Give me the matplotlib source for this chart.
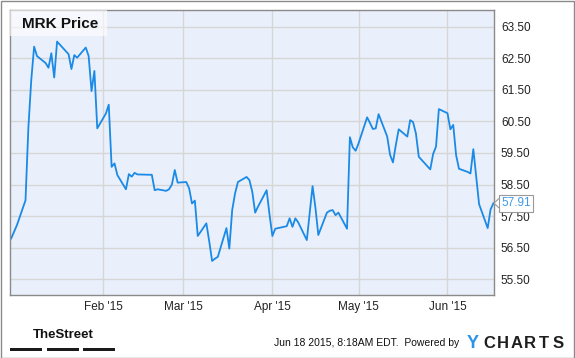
"""
MRK price chart, YCharts style.
"""

import numpy as np
import matplotlib
matplotlib.use("Agg")
import matplotlib.pyplot as plt
import matplotlib.dates as mdates
from matplotlib.patches import Rectangle, Polygon
import pandas as pd

plt.rcParams['font.family'] = ['Liberation Sans', 'DejaVu Sans']

dates = [
    "2014-12-31", "2015-01-02", "2015-01-05", "2015-01-06", "2015-01-07", "2015-01-08", "2015-01-09",
    "2015-01-12", "2015-01-13", "2015-01-14", "2015-01-15", "2015-01-16",
    "2015-01-20", "2015-01-21", "2015-01-22", "2015-01-23",
    "2015-01-26", "2015-01-27", "2015-01-28", "2015-01-29", "2015-01-30",
    "2015-02-02", "2015-02-03", "2015-02-04", "2015-02-05", "2015-02-06",
    "2015-02-09", "2015-02-10", "2015-02-11", "2015-02-12", "2015-02-13",
    "2015-02-17", "2015-02-18", "2015-02-19", "2015-02-20",
    "2015-02-23", "2015-02-24", "2015-02-25", "2015-02-26", "2015-02-27",
    "2015-03-02", "2015-03-03", "2015-03-04", "2015-03-05", "2015-03-06",
    "2015-03-09", "2015-03-10", "2015-03-11", "2015-03-12", "2015-03-13",
    "2015-03-16", "2015-03-17", "2015-03-18", "2015-03-19", "2015-03-20",
    "2015-03-23", "2015-03-24", "2015-03-25", "2015-03-26", "2015-03-27",
    "2015-03-30", "2015-03-31", "2015-04-01", "2015-04-02",
    "2015-04-06", "2015-04-07", "2015-04-08", "2015-04-09", "2015-04-10",
    "2015-04-13", "2015-04-14", "2015-04-15", "2015-04-16", "2015-04-17",
    "2015-04-20", "2015-04-21", "2015-04-22", "2015-04-23", "2015-04-24",
    "2015-04-27", "2015-04-28", "2015-04-29", "2015-04-30", "2015-05-01",
    "2015-05-04", "2015-05-05", "2015-05-06", "2015-05-07", "2015-05-08",
    "2015-05-11", "2015-05-12", "2015-05-13", "2015-05-14", "2015-05-15",
    "2015-05-18", "2015-05-19", "2015-05-20", "2015-05-21", "2015-05-22",
    "2015-05-26", "2015-05-27", "2015-05-28", "2015-05-29",
    "2015-06-01", "2015-06-02", "2015-06-03", "2015-06-04", "2015-06-05",
    "2015-06-08", "2015-06-09", "2015-06-10", "2015-06-11", "2015-06-12",
    "2015-06-15", "2015-06-16", "2015-06-17",
]

prices = [
    56.79, 57.21, 58.00, 60.30, 61.80, 62.87, 62.57,
    62.35, 62.20, 62.66, 61.89, 63.03,
    62.63, 62.16, 62.60, 62.52,
    62.84, 62.57, 61.46, 62.10, 60.28,
    60.75, 61.03, 59.06, 59.17, 58.80,
    58.35, 58.83, 58.75, 58.87, 58.82,
    58.81, 58.81, 58.32, 58.35,
    58.30, 58.35, 58.50, 58.96, 58.56,
    58.58, 58.38, 57.90, 57.99, 56.87,
    57.27, 56.70, 56.08, 56.15, 56.21,
    57.12, 56.47, 57.69, 58.22, 58.58,
    58.74, 58.64, 58.27, 57.61, 57.80,
    58.32, 57.55, 56.87, 57.10,
    57.18, 57.43, 57.16, 57.43, 57.30,
    56.74, 57.60, 58.45, 57.76, 56.90,
    57.61, 57.67, 57.69, 57.53, 57.61,
    57.10, 60.00, 59.68, 59.57, 59.80,
    60.63, 60.45, 60.26, 60.28, 60.73,
    60.02, 59.44, 59.20, 59.75, 60.25,
    60.02, 60.54, 60.48, 60.12, 59.38,
    58.98, 59.47, 59.70, 60.89,
    60.76, 60.25, 60.39, 59.43, 59.00,
    58.90, 58.85, 59.62, 58.75, 57.88,
    57.12, 57.71, 57.91,
]

y_ticks = [55.5, 56.5, 57.5, 58.5, 59.5, 60.5, 61.5, 62.5, 63.5]
x_ticks = ["2015-02-01", "2015-03-01", "2015-04-01", "2015-05-01", "2015-06-01"]

LINE = '#1a8ae6'
BG = '#eaf0fb'
GRID = '#d6d6d6'

x = mdates.date2num(pd.to_datetime(dates))

fig = plt.figure(figsize=(5.75, 3.58), dpi=100)
ax = fig.add_axes([10 / 575, 1 - 295 / 358, 484 / 575, 285 / 358])
ax.set_facecolor(BG)

ax.plot(x, prices, color=LINE, lw=1.3, zorder=2)

ax.set_xlim(x[0] - 0.4, x[-1] + 0.2)
ax.set_ylim(55.0, 64.03)

ax.set_xticks(mdates.date2num(pd.to_datetime(x_ticks)))
ax.xaxis.set_major_formatter(mdates.DateFormatter("%b '%y"))
ax.set_yticks(y_ticks)
ax.set_yticklabels(["%.2f" % v for v in y_ticks])
ax.yaxis.tick_right()
ax.tick_params(axis='both', length=0, labelsize=8.5, colors='#222222')
ax.tick_params(axis='y', pad=5)
ax.tick_params(axis='x', pad=4)
ax.grid(True, color=GRID, lw=1)
ax.set_axisbelow(True)
for s in ax.spines.values():
    s.set_color('#8a8a8a')
    s.set_linewidth(1)

# title box
ax.add_patch(Rectangle((0, 0.909), 0.2004, 0.091, transform=ax.transAxes,
                       fc='white', ec='none', alpha=0.6, zorder=3))
ax.text(0.024, 0.952, 'MRK Price', transform=ax.transAxes, fontsize=11,
        fontweight='bold', color='#111111', va='center', ha='left', zorder=4)

# last value tag
last = prices[-1]
ax.annotate('%.2f' % last, xy=(1, last), xycoords=('axes fraction', 'data'),
            xytext=(5.3, 0), textcoords='offset points', ha='left', va='center',
            fontsize=8.5, color='#3d9ae8', annotation_clip=False, zorder=6,
            bbox=dict(boxstyle='square,pad=0.2', fc='white', ec='#999999', lw=0.8))
tri = Polygon([(1 + 5 / 484, last + 0.15), (1.0, last), (1 + 5 / 484, last - 0.15)],
              closed=False, transform=ax.get_yaxis_transform(), fc='white',
              ec='#999999', lw=0.8, clip_on=False, zorder=7)
ax.add_patch(tri)

# outer frame
fig.patches.append(Rectangle((0.5 / 575, 0.5 / 358), 1 - 1.5 / 575, 1 - 1.5 / 358,
                             transform=fig.transFigure, fill=False, ec='#8a8a8a', lw=1))

# footer: TheStreet logo
fig.text(63 / 575, 1 - 335.5 / 358, 'TheStreet', ha='center', va='center', fontsize=9.5,
         fontweight='bold', color='#111111',
         family=['Liberation Sans Narrow', 'Liberation Sans', 'DejaVu Sans'])
for bx in [10, 47, 83]:
    fig.patches.append(Rectangle((bx / 575, 1 - 351 / 358), 32 / 575, 3.2 / 358,
                                 transform=fig.transFigure, fc='#1a1a1a', ec='none'))

# footer: timestamp + YCHARTS
fig.text(459 / 575, 1 - 343.5 / 358, 'Jun 18 2015, 8:18AM EDT.  Powered by',
         ha='right', va='center', fontsize=7.5, color='#111111')
fig.text(473 / 575, 1 - 343.8 / 358, 'Y', ha='center', va='center', fontsize=13,
         fontweight='bold', color='#2a95e8')
for i, ch in enumerate('CHARTS'):
    fig.text((482 + 6.9 + 13.8 * i) / 575, 1 - 343.8 / 358, ch, ha='center',
             va='center', fontsize=12, fontweight='bold', color='#1e1e1e')

fig.savefig('out.png', dpi=100)
